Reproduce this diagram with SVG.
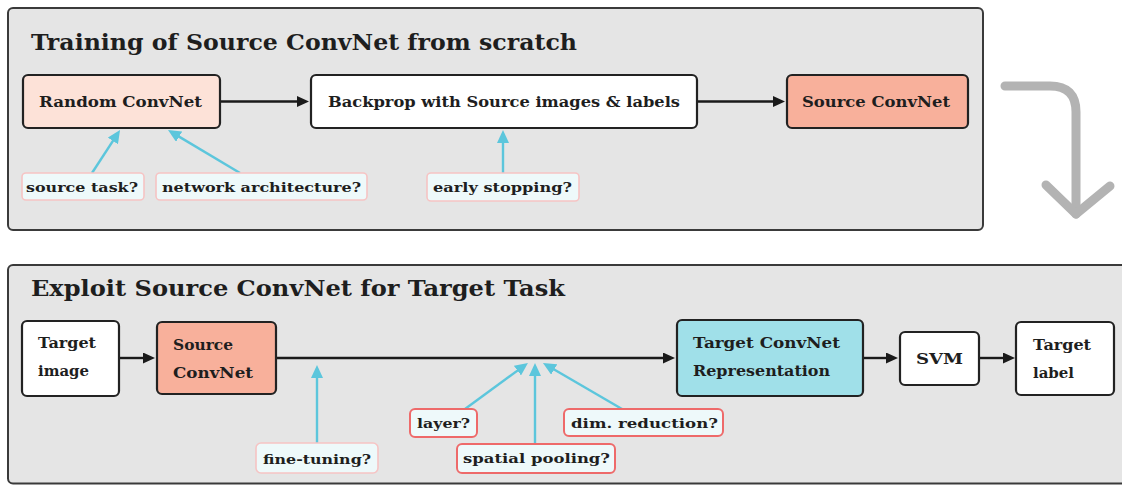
<svg xmlns="http://www.w3.org/2000/svg" width="1122" height="486" viewBox="0 0 1122 486">
<defs>
<style>
.panel{fill:#e5e5e5;stroke:#3a3a3a;stroke-width:2}
.node{stroke:#222;stroke-width:2.2}
.ann{fill:#eef9fa;stroke-width:1.6}
.soft{stroke:#f6c4c4}
.hard{stroke:#ee6a6a;stroke-width:2}
text{font-family:"DejaVu Serif","Liberation Serif",serif;font-weight:bold;fill:#1e1e1e}
.title{font-size:22px}
.lbl{font-size:15px}
.small{font-size:13px}
.edge{stroke:#1a1a1a;stroke-width:2.4;fill:none}
.cy{stroke:#5cc6dc;stroke-width:2.4;fill:none}
.flow{stroke:#b3b3b3;stroke-width:9;fill:none;stroke-linecap:round;stroke-linejoin:round}
</style>
<marker id="ab" markerUnits="userSpaceOnUse" markerWidth="12" markerHeight="11" refX="4" refY="5.5" orient="auto"><path d="M0,0 L12,5.5 L0,11 z" fill="#1a1a1a"/></marker>
<marker id="ac" markerUnits="userSpaceOnUse" markerWidth="13" markerHeight="12" refX="6" refY="6" orient="auto"><path d="M0,0 L13,6 L0,12 z" fill="#5cc6dc"/></marker>
</defs>

<g id="panel-top">
<rect class="panel" x="8" y="8" width="975" height="222" rx="5"/>
<text class="title" x="31" y="50" textLength="546" lengthAdjust="spacingAndGlyphs">Training of Source ConvNet from scratch</text>
</g>
<g id="panel-bottom">
<rect class="panel" x="8" y="265" width="1125" height="218.5" rx="5"/>
<text class="title" x="31" y="296" textLength="534" lengthAdjust="spacingAndGlyphs">Exploit Source ConvNet for Target Task</text>
</g>

<g id="flow-arrow">
<path class="flow" d="M1005,86 H1050 Q1076,86 1076,112 V214"/>
<path class="flow" d="M1046,185 L1076,214 L1110,186"/>
</g>

<g id="connectors">
<line class="edge" x1="220" y1="101.5" x2="301" y2="101.5" marker-end="url(#ab)"/>
<line class="edge" x1="697" y1="101.5" x2="777" y2="101.5" marker-end="url(#ab)"/>
<line class="edge" x1="119" y1="358" x2="147" y2="358" marker-end="url(#ab)"/>
<line class="edge" x1="276" y1="358" x2="667" y2="358" marker-end="url(#ab)"/>
<line class="edge" x1="863" y1="358" x2="890" y2="358" marker-end="url(#ab)"/>
<line class="edge" x1="979" y1="358" x2="1007" y2="358" marker-end="url(#ab)"/>
<line class="cy" x1="92" y1="173" x2="116.2" y2="135.9" marker-end="url(#ac)"/>
<line class="cy" x1="240" y1="173" x2="174" y2="133.6" marker-end="url(#ac)"/>
<line class="cy" x1="503" y1="173" x2="503" y2="137" marker-end="url(#ac)"/>
<line class="cy" x1="317" y1="443" x2="317" y2="372" marker-end="url(#ac)"/>
<line class="cy" x1="465" y1="409" x2="522.3" y2="367.1" marker-end="url(#ac)"/>
<line class="cy" x1="535" y1="444" x2="535" y2="370" marker-end="url(#ac)"/>
<line class="cy" x1="622" y1="409" x2="549" y2="366.5" marker-end="url(#ac)"/>
</g>

<g id="random-convnet">
<rect class="node" x="23" y="75" width="197" height="53" rx="5" fill="#fde2d8"/>
<text class="lbl" x="39" y="107" textLength="163" lengthAdjust="spacingAndGlyphs">Random ConvNet</text>
</g>
<g id="backprop">
<rect class="node" x="311" y="75" width="386" height="53" rx="5" fill="#ffffff"/>
<text class="lbl" x="328" y="107" textLength="352" lengthAdjust="spacingAndGlyphs">Backprop with Source images &amp; labels</text>
</g>
<g id="source-convnet-top">
<rect class="node" x="787" y="75" width="181" height="53" rx="5" fill="#f8b09b"/>
<text class="lbl" x="802" y="107" textLength="148" lengthAdjust="spacingAndGlyphs">Source ConvNet</text>
</g>

<g id="ann-source-task">
<rect class="ann soft" x="22" y="173" width="122" height="27" rx="4"/>
<text class="small" x="26" y="192" textLength="112" lengthAdjust="spacingAndGlyphs">source task?</text>
</g>
<g id="ann-network-architecture">
<rect class="ann soft" x="156" y="173" width="211" height="27" rx="4"/>
<text class="small" x="162" y="192" textLength="199" lengthAdjust="spacingAndGlyphs">network architecture?</text>
</g>
<g id="ann-early-stopping">
<rect class="ann soft" x="427" y="173" width="152" height="28" rx="4"/>
<text class="small" x="433" y="192" textLength="139" lengthAdjust="spacingAndGlyphs">early stopping?</text>
</g>

<g id="target-image">
<rect class="node" x="22" y="321" width="97" height="75" rx="5" fill="#ffffff"/>
<text class="lbl" x="38" y="348" textLength="58" lengthAdjust="spacingAndGlyphs">Target</text>
<text class="lbl" x="38" y="376" textLength="51" lengthAdjust="spacingAndGlyphs">image</text>
</g>
<g id="source-convnet">
<rect class="node" x="157" y="322" width="119" height="72" rx="5" fill="#f8b09b"/>
<text class="lbl" x="173" y="350" textLength="60" lengthAdjust="spacingAndGlyphs">Source</text>
<text class="lbl" x="173" y="378" textLength="80" lengthAdjust="spacingAndGlyphs">ConvNet</text>
</g>
<g id="target-representation">
<rect class="node" x="677" y="320" width="186" height="76" rx="5" fill="#a0e0e9"/>
<text class="lbl" x="693" y="348" textLength="147" lengthAdjust="spacingAndGlyphs">Target ConvNet</text>
<text class="lbl" x="693" y="376" textLength="137" lengthAdjust="spacingAndGlyphs">Representation</text>
</g>
<g id="svm">
<rect class="node" x="900" y="332" width="79" height="53" rx="5" fill="#ffffff"/>
<text class="lbl" x="916" y="364" textLength="47" lengthAdjust="spacingAndGlyphs">SVM</text>
</g>
<g id="target-label">
<rect class="node" x="1016" y="322" width="98" height="73" rx="5" fill="#ffffff"/>
<text class="lbl" x="1033" y="350" textLength="58" lengthAdjust="spacingAndGlyphs">Target</text>
<text class="lbl" x="1033" y="378" textLength="41" lengthAdjust="spacingAndGlyphs">label</text>
</g>

<g id="ann-fine-tuning">
<rect class="ann soft" x="256" y="443" width="122" height="30" rx="5"/>
<text class="small" x="263" y="464" textLength="108" lengthAdjust="spacingAndGlyphs">fine-tuning?</text>
</g>
<g id="ann-layer">
<rect class="ann hard" x="410" y="409" width="67" height="28" rx="5"/>
<text class="small" x="417" y="428" textLength="53" lengthAdjust="spacingAndGlyphs">layer?</text>
</g>
<g id="ann-spatial-pooling">
<rect class="ann hard" x="457" y="444" width="158" height="29" rx="5"/>
<text class="small" x="463" y="463" textLength="147" lengthAdjust="spacingAndGlyphs">spatial pooling?</text>
</g>
<g id="ann-dim-reduction">
<rect class="ann hard" x="564" y="409" width="159" height="27" rx="5"/>
<text class="small" x="571" y="428" textLength="147" lengthAdjust="spacingAndGlyphs">dim. reduction?</text>
</g>
</svg>
